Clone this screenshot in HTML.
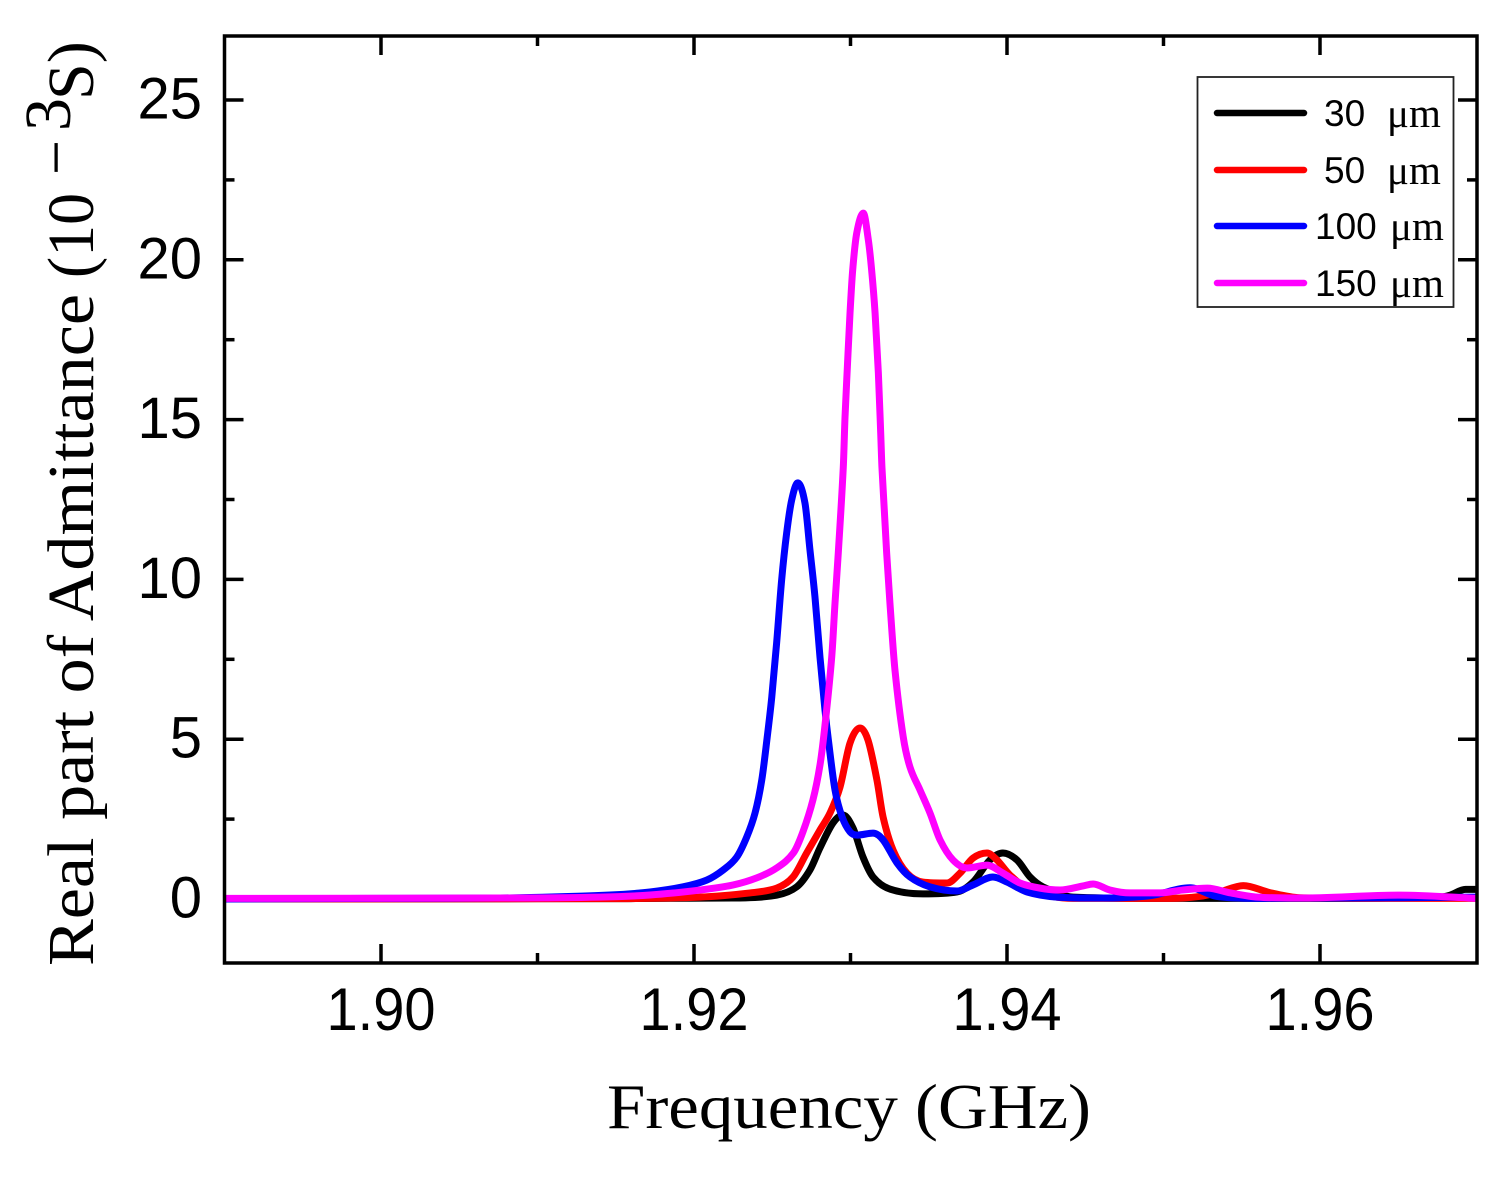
<!DOCTYPE html>
<html>
<head>
<meta charset="utf-8">
<title>Real part of Admittance</title>
<style>
html,body{margin:0;padding:0;background:#fff;}
svg{display:block;}
.tick{font-family:"Liberation Sans",sans-serif;font-size:56px;fill:#000;}
.ytick{font-family:"Liberation Sans",sans-serif;font-size:58px;fill:#000;}
.title{font-family:"Liberation Serif",serif;font-size:63px;fill:#000;}
.ytitle{font-family:"Liberation Serif",serif;font-size:66px;fill:#000;}
.leg{font-family:"Liberation Sans",sans-serif;font-size:37px;fill:#000;}
.legu{font-family:"Liberation Serif",serif;font-size:41px;fill:#000;}
</style>
</head>
<body>
<svg id="chart" xmlns="http://www.w3.org/2000/svg" width="1510" height="1177" viewBox="0 0 1510 1177">
<rect x="0" y="0" width="1510" height="1177" fill="#fff"/>
<g id="ticks"></g>
<g id="labels"></g>
<g id="series"></g>
<rect x="224.5" y="36" width="1252.5" height="927" fill="none" stroke="#000" stroke-width="3.5"/>
<text class="title" x="607" y="1128" textLength="484" lengthAdjust="spacingAndGlyphs">Frequency (GHz)</text>
<g transform="translate(93,966) rotate(-90)">
<text class="ytitle" x="0" y="0" textLength="672" lengthAdjust="spacingAndGlyphs">Real part of Admittance</text>
<text class="ytitle" x="688" y="0" textLength="85" lengthAdjust="spacingAndGlyphs">(10</text>
<text class="ytitle" x="791" y="-15" textLength="35" lengthAdjust="spacingAndGlyphs">−</text>
<text class="ytitle" x="835" y="-23">3</text>
<text class="ytitle" x="866" y="0">S)</text>
</g>
<g id="legend">
<rect x="1197.5" y="77" width="256" height="230" fill="#fff" stroke="#222" stroke-width="1.8"/>
</g>
</svg>
<script>
var xMajorTicks = [1.90, 1.92, 1.94, 1.96];
var xMinorTicks = [1.91, 1.93, 1.95];
var xTickLabels = ["1.90", "1.92", "1.94", "1.96"];
var yMajorTicks = [0, 5, 10, 15, 20, 25];
var yMinorTicks = [2.5, 7.5, 12.5, 17.5, 22.5];
var yTickLabels = ["0", "5", "10", "15", "20", "25"];

var freq30 = [1.89,1.91,1.92249,1.92528,1.92656,1.92741,1.92805,1.92888,1.92952,1.93016,1.9308,1.93144,1.93252,1.93463,1.93681,1.93783,1.93891,1.93974,1.94064,1.94147,1.9423,1.94422,1.95,1.96,1.9677,1.9683,1.9693,1.97];
var val30 = [0,0.01,0.03,0.12,0.38,0.91,1.6,2.38,2.63,2.22,1.31,0.69,0.31,0.16,0.22,0.53,1.22,1.44,1.22,0.69,0.38,0.06,0.02,0.02,0.06,0.12,0.3,0.3];

var freq50 = [1.89,1.91399,1.92038,1.92358,1.92528,1.92633,1.9272,1.92805,1.92869,1.92933,1.92997,1.93061,1.93112,1.93169,1.93208,1.93272,1.93361,1.93463,1.93617,1.937,1.93783,1.93872,1.93936,1.94019,1.94147,1.94422,1.9504,1.9523,1.9536,1.9551,1.9568,1.9587,1.9651,1.97];
var val50 = [0,0.01,0.06,0.19,0.34,0.69,1.44,2.16,2.69,3.5,4.88,5.35,4.97,3.72,2.57,1.53,0.81,0.53,0.5,0.81,1.28,1.44,1.22,0.75,0.28,0.02,0.02,0.08,0.22,0.42,0.2,0.04,0.02,0.02];

var freq100 = [1.89,1.9012,1.9076,1.91463,1.91719,1.9193,1.92081,1.92187,1.92273,1.92337,1.9239,1.92433,1.92468,1.92497,1.92528,1.9256,1.92592,1.92624,1.92663,1.92709,1.92741,1.92773,1.92805,1.92837,1.92858,1.92901,1.92946,1.92997,1.93042,1.93144,1.93208,1.93297,1.9338,1.93508,1.93681,1.93783,1.9391,1.94,1.94128,1.9432,1.9459,1.9491,1.9517,1.9534,1.956,1.9651,1.97];
var val100 = [0,0.02,0.03,0.125,0.22,0.38,0.59,0.91,1.31,1.94,2.69,3.72,5.07,6.32,8.01,9.98,11.45,12.48,13.02,12.39,10.92,9.45,7.57,5.91,5.0,3.41,2.57,2.1,2.0,2.06,1.85,1.13,0.69,0.38,0.25,0.44,0.69,0.53,0.22,0.06,0.03,0.1,0.35,0.08,0.02,0.04,0.06];

var freq150 = [1.89,1.9076,1.91399,1.91719,1.92038,1.92251,1.92401,1.92528,1.92635,1.92696,1.9276,1.92805,1.92837,1.9288,1.92901,1.92922,1.92954,1.92965,1.9298,1.92997,1.93014,1.9304,1.93082,1.93114,1.93135,1.93157,1.93178,1.93193,1.93201,1.93231,1.93252,1.93284,1.93337,1.9338,1.93444,1.93508,1.93572,1.93655,1.93744,1.93872,1.93974,1.94083,1.94211,1.94339,1.94486,1.9455,1.94658,1.94786,1.9498,1.9512,1.9528,1.9543,1.956,1.9587,1.9651,1.97];
var val150 = [0.02,0.03,0.06,0.125,0.28,0.44,0.66,0.97,1.44,2.1,3.1,4.19,5.44,7.57,9.26,10.83,13.52,15.08,16.65,18.34,19.68,20.84,21.46,20.62,19.68,18.34,16.46,14.58,13.5,10.83,9.26,7.17,5.07,4.13,3.41,2.69,1.85,1.22,0.97,1.06,0.81,0.5,0.34,0.28,0.41,0.47,0.28,0.19,0.19,0.28,0.34,0.19,0.06,0.03,0.12,0.02];

var seriesNames = ["30 μm", "50 μm", "100 μm", "150 μm"];
var seriesColors = ["#000000", "#ff0000", "#0000ff", "#ff00ff"];
var seriesFreqs = [freq30, freq50, freq100, freq150];
var seriesVals = [val30, val50, val100, val150];

var NS = "http://www.w3.org/2000/svg";
function sx(f){ return 224.5 + (f - 1.89) * 15650; }
function sy(v){ return 899 - v * 31.96; }

function el(tag, parent, cls){
  var e = document.createElementNS(NS, tag);
  if (cls) e.setAttribute("class", cls);
  parent.appendChild(e);
  return e;
}
function line(parent, x1, y1, x2, y2, color, w){
  var l = el("line", parent);
  l.setAttribute("x1", x1); l.setAttribute("y1", y1);
  l.setAttribute("x2", x2); l.setAttribute("y2", y2);
  l.setAttribute("stroke", color); l.setAttribute("stroke-width", w);
  return l;
}
/* Smooth cubic path with centred tangents, limited so extrema do not overshoot */
function smoothPath(xs, ys){
  var n = xs.length, d = [], m = [], i;
  for (i = 0; i < n - 1; i++) d.push((ys[i + 1] - ys[i]) / (xs[i + 1] - xs[i]));
  m.push(d[0]);
  for (i = 1; i < n - 1; i++) {
    if (d[i - 1] * d[i] <= 0) { m.push(0); continue; }
    var c = (ys[i + 1] - ys[i - 1]) / (xs[i + 1] - xs[i - 1]);
    var lim = 3 * Math.min(Math.abs(d[i - 1]), Math.abs(d[i]));
    m.push(Math.abs(c) > lim ? (c > 0 ? lim : -lim) : c);
  }
  m.push(d[n - 2]);
  var s = "M" + xs[0].toFixed(2) + " " + ys[0].toFixed(2);
  for (i = 0; i < n - 1; i++) {
    var h = (xs[i + 1] - xs[i]) / 3;
    s += "C" + (xs[i] + h).toFixed(2) + " " + (ys[i] + m[i] * h).toFixed(2) + " " +
         (xs[i + 1] - h).toFixed(2) + " " + (ys[i + 1] - m[i + 1] * h).toFixed(2) + " " +
         xs[i + 1].toFixed(2) + " " + ys[i + 1].toFixed(2);
  }
  return s;
}

var ticksG = document.getElementById("ticks");
var labelsG = document.getElementById("labels");
var seriesG = document.getElementById("series");
var legendG = document.getElementById("legend");
var TOP = 36, BOTTOM = 963, LEFT = 224.5, RIGHT = 1477;
var i, t;

for (i = 0; i < xMajorTicks.length; i++) {
  var xM = sx(xMajorTicks[i]);
  t = line(ticksG, xM, BOTTOM, xM, BOTTOM - 19, "#000", 3.5);
  
  
  t = line(ticksG, xM, TOP, xM, TOP + 19, "#000", 3.5);
  
  
  var xl = el("text", labelsG, "tick");
  
  
  xl.setAttribute("transform", "translate(" + xM + ",1030) scale(1,1.08)");
  xl.setAttribute("text-anchor", "middle");
  xl.textContent = xTickLabels[i];
}
for (i = 0; i < xMinorTicks.length; i++) {
  var xm = sx(xMinorTicks[i]);
  t = line(ticksG, xm, BOTTOM, xm, BOTTOM - 10, "#000", 3.5);
  
  
  t = line(ticksG, xm, TOP, xm, TOP + 10, "#000", 3.5);
  
  
}
for (i = 0; i < yMajorTicks.length; i++) {
  var yM = sy(yMajorTicks[i]);
  t = line(ticksG, LEFT, yM, LEFT + 19, yM, "#000", 3.5);
  
  
  t = line(ticksG, RIGHT, yM, RIGHT - 19, yM, "#000", 3.5);
  
  
  var yl = el("text", labelsG, "ytick");
  
  
  yl.setAttribute("x", 202);
  yl.setAttribute("y", yM + 18.5);
  yl.setAttribute("text-anchor", "end");
  yl.textContent = yTickLabels[i];
}
for (i = 0; i < yMinorTicks.length; i++) {
  var ym = sy(yMinorTicks[i]);
  t = line(ticksG, LEFT, ym, LEFT + 10, ym, "#000", 3.5);
  
  
  t = line(ticksG, RIGHT, ym, RIGHT - 10, ym, "#000", 3.5);
  
  
}

var seriesKeys = ["series-30um", "series-50um", "series-100um", "series-150um"];
for (i = 0; i < seriesFreqs.length; i++) {
  var p = el("path", seriesG);
  
  
  p.setAttribute("d", smoothPath(seriesFreqs[i].map(sx), seriesVals[i].map(sy)));
  p.setAttribute("fill", "none");
  p.setAttribute("stroke", seriesColors[i]);
  p.setAttribute("stroke-width", 7);
  p.setAttribute("stroke-linejoin", "round");
}

var legY = [113, 170, 226, 283];
var legX = [1324, 1324, 1315, 1315];
var legUX = [1387, 1387, 1390, 1390];
for (i = 0; i < seriesNames.length; i++) {
  var ll = line(legendG, 1217, legY[i], 1304, legY[i], seriesColors[i], 6.5);
  ll.setAttribute("stroke-linecap", "round");
  
  
  var parts = seriesNames[i].split(" ");
  var n1 = el("text", legendG, "leg");
  
  
  n1.setAttribute("x", legX[i]);
  n1.setAttribute("y", legY[i] + 13);
  n1.textContent = parts[0];
  var n2 = el("text", legendG, "legu");
  
  
  n2.setAttribute("x", legUX[i]);
  n2.setAttribute("y", legY[i] + 14);
  n2.textContent = parts[1];
}
</script>
</body>
</html>
